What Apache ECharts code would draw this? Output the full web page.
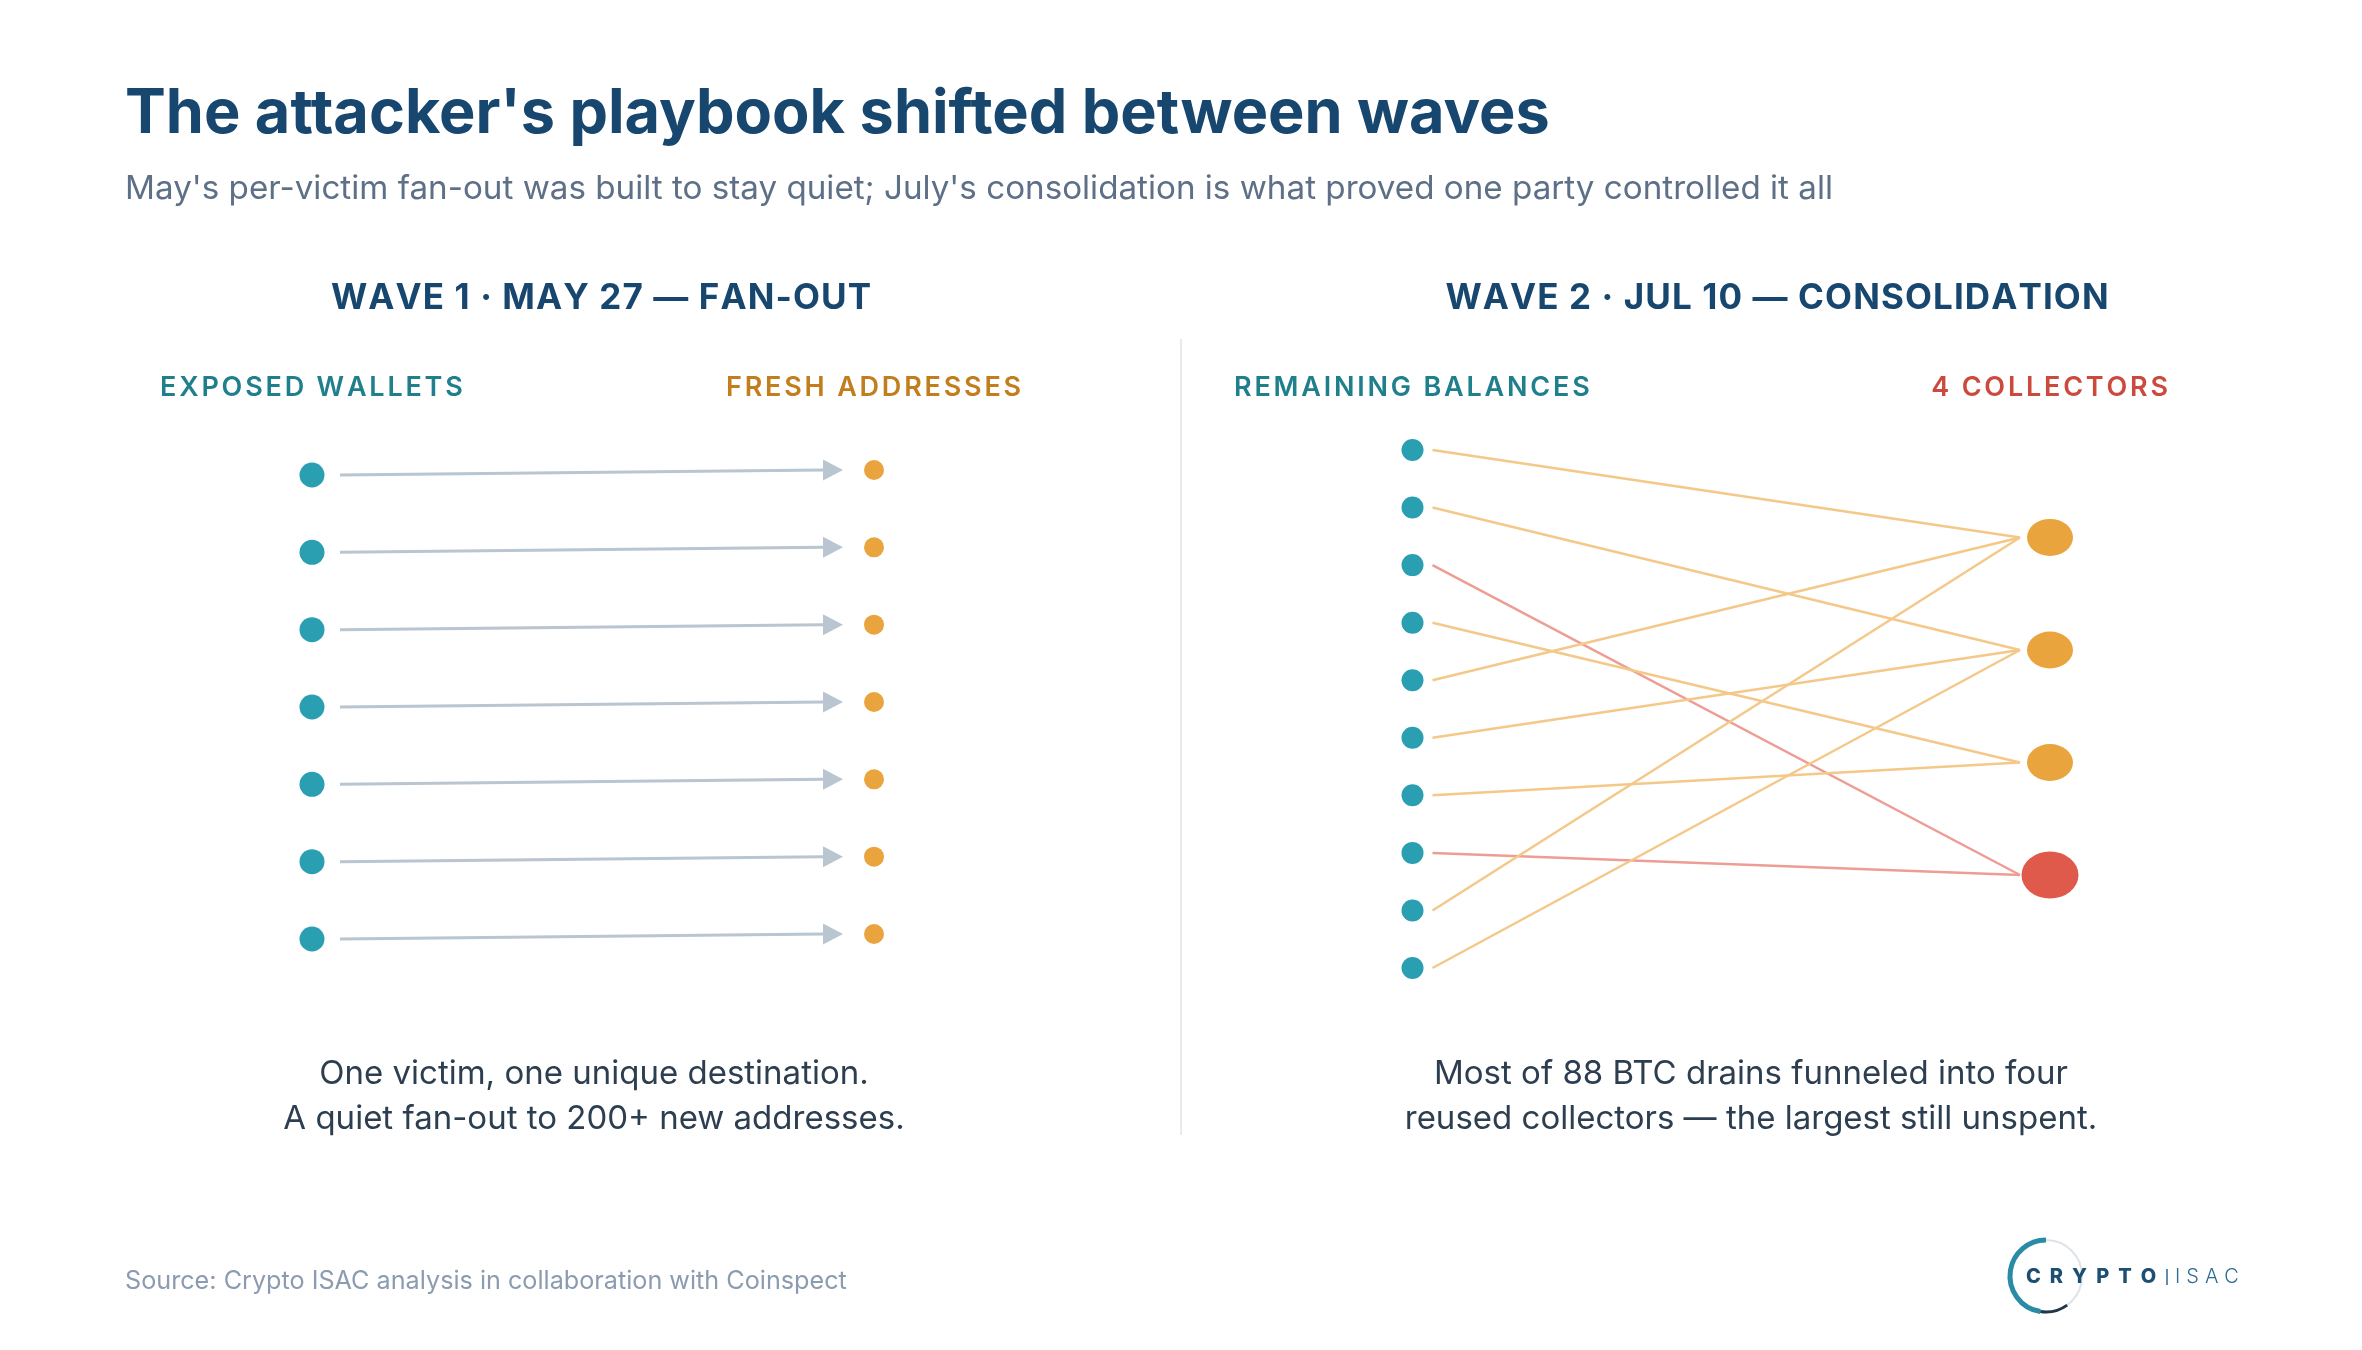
<!DOCTYPE html>
<html>
<head>
<meta charset="utf-8">
<title>The attacker's playbook shifted between waves</title>
<script src="https://cdn.jsdelivr.net/npm/echarts@6/dist/echarts.min.js"></script>
<style>
  html, body { margin: 0; padding: 0; background: #ffffff; }
  #root { width: 2362px; height: 1350px; }
</style>
</head>
<body>
<div id="root"></div>
<script>
// wave 1: every exposed wallet sends to its own fresh address
const wave1Wallets = ['W1', 'W2', 'W3', 'W4', 'W5', 'W6', 'W7'];
const wave1Fresh = ['F1', 'F2', 'F3', 'F4', 'F5', 'F6', 'F7'];

// wave 2: remaining balances -> collector index
const wave2Balances = ['B1', 'B2', 'B3', 'B4', 'B5', 'B6', 'B7', 'B8', 'B9', 'B10'];
const wave2Collectors = ['C1', 'C2', 'C3', 'C4'];
const wave2Links = [0, 1, 3, 2, 0, 1, 2, 3, 0, 1];
const largestCollector = 3;

const FONT = 'Inter, "Noto Sans", sans-serif';
const TEAL = '#2a9fb1';
const ORANGE = '#e9a43e';
const RED = '#e05a4b';
const NAVY = '#17466e';

// collectors sit between the balance rows
const COLLECTOR_MID = 4.452;
const COLLECTOR_STEP = 1.955;
const collectorRow = k => COLLECTOR_MID + (k - (wave2Collectors.length - 1) / 2) * COLLECTOR_STEP;

const container = document.getElementById('root');
const myChart = echarts.init(container);

// letter-spaced text, one glyph per element
const measureCtx = document.createElement('canvas').getContext('2d');
function spacedText(str, x, y, font, spacing, color, align) {
  measureCtx.font = font;
  const chars = [...str];
  const widths = chars.map(ch => measureCtx.measureText(ch).width);
  const total = widths.reduce((a, b) => a + b, 0) + spacing * (chars.length - 1);
  let cx = align === 'center' ? x - total / 2 : align === 'right' ? x - total : x;
  return chars.map((ch, i) => {
    const el = {
      type: 'text', x: cx, y, silent: true,
      style: { text: ch, font, fill: color, verticalAlign: 'middle' }
    };
    cx += widths[i] + spacing;
    return el;
  });
}

const plainText = (text, x, y, font, color, align) => ({
  type: 'text', x, y, silent: true,
  style: { text, font, fill: color, align: align || 'left', verticalAlign: 'middle' }
});

const graphics = [
  plainText("The attacker's playbook shifted between waves", 125, 115, `700 61.2px ${FONT}`, NAVY),
  plainText("May's per-victim fan-out was built to stay quiet; July's consolidation is what proved one party controlled it all",
    125, 189, `400 33.2px ${FONT}`, '#5e7087'),
  ...spacedText('WAVE 1 · MAY 27 — FAN-OUT', 601, 298, `700 35px ${FONT}`, 1.1, NAVY, 'center'),
  ...spacedText('WAVE 2 · JUL 10 — CONSOLIDATION', 1777, 298, `700 35px ${FONT}`, 1.1, NAVY, 'center'),
  ...spacedText('EXPOSED WALLETS', 160, 388, `600 27px ${FONT}`, 2.8, '#1f7f8c', 'left'),
  ...spacedText('FRESH ADDRESSES', 726, 388, `600 27px ${FONT}`, 2.8, '#c27e1c', 'left'),
  ...spacedText('REMAINING BALANCES', 1234, 388, `600 27px ${FONT}`, 2.8, '#1f7f8c', 'left'),
  ...spacedText('4 COLLECTORS', 2168, 388, `600 27px ${FONT}`, 2.8, '#cc4a3d', 'right'),
  {
    type: 'line', silent: true,
    shape: { x1: 1181, y1: 339, x2: 1181, y2: 1135 },
    style: { stroke: '#e6ebf0', lineWidth: 2 }
  },
  plainText('One victim, one unique destination.', 594, 1074, `400 33px ${FONT}`, '#2c3e50', 'center'),
  plainText('A quiet fan-out to 200+ new addresses.', 594, 1119, `400 33px ${FONT}`, '#2c3e50', 'center'),
  plainText('Most of 88 BTC drains funneled into four', 1751, 1074, `400 33px ${FONT}`, '#2c3e50', 'center'),
  plainText('reused collectors — the largest still unspent.', 1751, 1119, `400 33px ${FONT}`, '#2c3e50', 'center'),
  plainText('Source: Crypto ISAC analysis in collaboration with Coinspect', 125, 1281, `400 25.2px ${FONT}`, '#8b9bb0'),
  // logo
  {
    type: 'circle', silent: true,
    shape: { cx: 2046, cy: 1276, r: 36 },
    style: { fill: 'none', stroke: '#dde3e8', lineWidth: 2 }
  },
  {
    type: 'arc', silent: true,
    shape: { cx: 2046, cy: 1276, r: 36, startAngle: Math.PI * 0.55, endAngle: Math.PI * 1.5 },
    style: { fill: 'none', stroke: '#2a8ba6', lineWidth: 5 }
  },
  {
    type: 'arc', silent: true,
    shape: { cx: 2046, cy: 1276, r: 36, startAngle: Math.PI * 0.3, endAngle: Math.PI * 0.55 },
    style: { fill: 'none', stroke: '#20384a', lineWidth: 3 }
  },
  ...spacedText('CRYPTO', 2026, 1277, `800 20px ${FONT}`, 9, '#1d4f73', 'left'),
  {
    type: 'line', silent: true,
    shape: { x1: 2167, y1: 1269, x2: 2167, y2: 1285 },
    style: { stroke: '#2a6a90', lineWidth: 1.5 }
  },
  ...spacedText('ISAC', 2175, 1277, `300 20px ${FONT}`, 6, '#2a6a90', 'left')
];

const hiddenAxis = (min, max, gridIndex, inverse) => ({
  type: 'value', min, max, gridIndex, inverse: !!inverse, show: false
});

const option = {
  backgroundColor: '#ffffff',
  animation: false,
  grid: [
    { left: 312, top: 475, width: 562, height: 464 },
    { left: 1412.5, top: 450, width: 637.5, height: 518 }
  ],
  xAxis: [hiddenAxis(0, 1, 0), hiddenAxis(0, 1, 1)],
  yAxis: [
    hiddenAxis(0, wave1Wallets.length - 1, 0, true),
    hiddenAxis(0, wave2Balances.length - 1, 1, true)
  ],
  series: [
    {
      // fan-out arrows
      type: 'custom',
      xAxisIndex: 0, yAxisIndex: 0,
      silent: true,
      data: wave1Wallets.map((_, i) => [i]),
      renderItem: (params, api) => {
        const row = api.value(0);
        const p0 = api.coord([0, row]);
        const p1 = api.coord([1, row]);
        const tip = [p1[0] - 31, p1[1] - 5];
        const base = [tip[0] - 20, tip[1]];
        return {
          type: 'group',
          children: [
            {
              type: 'line',
              shape: { x1: p0[0] + 28, y1: p0[1], x2: base[0], y2: base[1] },
              style: { stroke: '#b9c5d0', lineWidth: 3 }
            },
            {
              type: 'polygon',
              shape: { points: [tip, [base[0], base[1] - 10.5], [base[0], base[1] + 10.5]] },
              style: { fill: '#b9c5d0' }
            }
          ]
        };
      }
    },
    {
      type: 'scatter',
      xAxisIndex: 0, yAxisIndex: 0,
      silent: true,
      symbolSize: 25,
      itemStyle: { color: TEAL, opacity: 1 },
      data: wave1Wallets.map((name, i) => ({ name, value: [0, i] }))
    },
    {
      type: 'scatter',
      xAxisIndex: 0, yAxisIndex: 0,
      silent: true,
      symbolSize: 20,
      symbolOffset: [0, -5],
      itemStyle: { color: ORANGE, opacity: 1 },
      data: wave1Fresh.map((name, i) => ({ name, value: [1, i] }))
    },
    {
      // consolidation links
      type: 'custom',
      xAxisIndex: 1, yAxisIndex: 1,
      silent: true,
      data: wave2Links.map((c, i) => [i, c]),
      renderItem: (params, api) => {
        const src = api.value(0);
        const dst = api.value(1);
        const p0 = api.coord([0, src]);
        const p1 = api.coord([1, collectorRow(dst)]);
        return {
          type: 'line',
          shape: { x1: p0[0] + 20, y1: p0[1], x2: p1[0] - 30, y2: p1[1] },
          style: { stroke: dst === largestCollector ? '#ee9d94' : '#f4c889', lineWidth: 2.5 }
        };
      }
    },
    {
      type: 'scatter',
      xAxisIndex: 1, yAxisIndex: 1,
      silent: true,
      symbolSize: 22,
      itemStyle: { color: TEAL, opacity: 1 },
      data: wave2Balances.map((name, i) => ({ name, value: [0, i] }))
    },
    {
      type: 'scatter',
      xAxisIndex: 1, yAxisIndex: 1,
      silent: true,
      data: wave2Collectors.map((name, k) => ({
        name,
        value: [1, collectorRow(k)],
        symbolSize: k === largestCollector ? [57, 47] : [46, 37],
        itemStyle: { color: k === largestCollector ? RED : ORANGE, opacity: 1 }
      }))
    }
  ],
  graphic: graphics
};

myChart.setOption(option);

window.onresize = () => myChart.resize();
</script>
</body>
</html>
